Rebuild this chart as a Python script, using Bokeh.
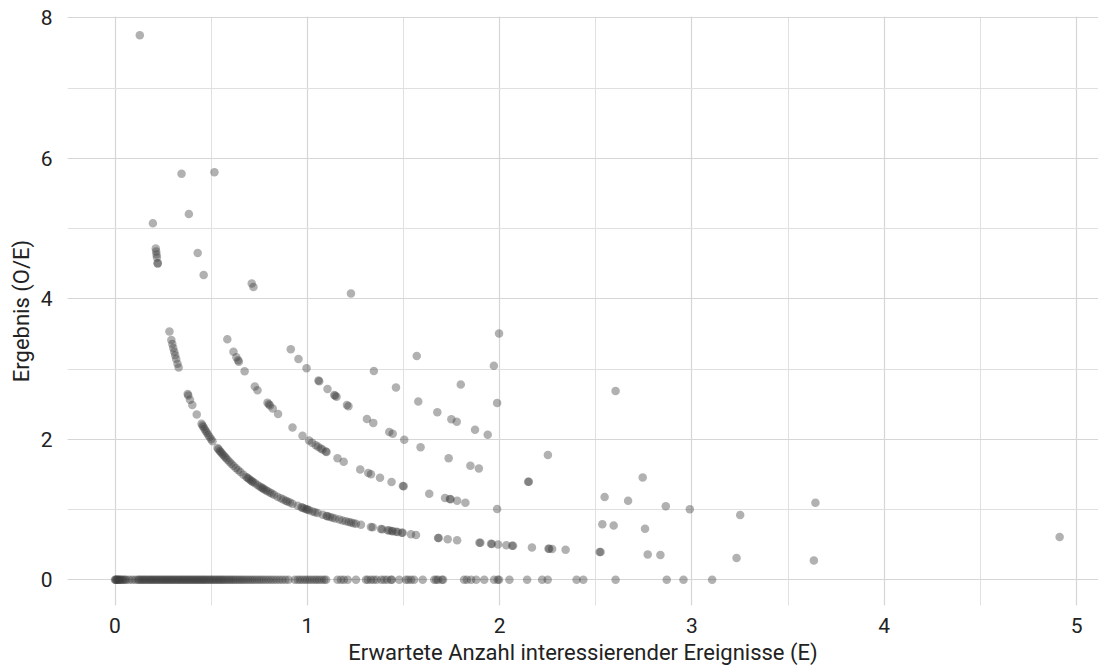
from bokeh.plotting import figure
from bokeh.models import ColumnDataSource, Range1d, SingleIntervalTicker
from bokeh.embed import file_html
from bokeh.resources import INLINE

# Expected number of events of interest (E), grouped by observed count (O)
e_obs0 = [0.000, 0.003, 0.006, 0.010, 0.014, 0.018, 0.022, 0.027, 0.032, 0.038, 0.045, 0.052,
          0.060, 0.075, 0.090, 0.105, 0.118, 0.125, 0.132, 0.140, 0.147, 0.155, 0.162, 0.170,
          0.178, 0.185, 0.192, 0.200, 0.207, 0.215, 0.222, 0.230, 0.237, 0.245, 0.252, 0.260,
          0.267, 0.275, 0.282, 0.290, 0.297, 0.305, 0.312, 0.320, 0.328, 0.335, 0.343, 0.350,
          0.358, 0.365, 0.373, 0.380, 0.388, 0.395, 0.403, 0.410, 0.418, 0.425, 0.433, 0.440,
          0.448, 0.455, 0.463, 0.470, 0.478, 0.486, 0.494, 0.502, 0.510, 0.518, 0.526, 0.534,
          0.542, 0.550, 0.558, 0.566, 0.575, 0.584, 0.593, 0.602, 0.611, 0.620, 0.630, 0.640,
          0.650, 0.660, 0.670, 0.681, 0.692, 0.703, 0.714, 0.725, 0.737, 0.749, 0.761, 0.773,
          0.786, 0.799, 0.812, 0.826, 0.840, 0.855, 0.870, 0.886, 0.902, 0.935, 0.950, 0.962,
          0.975, 0.988, 1.000, 1.012, 1.025, 1.038, 1.050, 1.062, 1.075, 1.088, 1.098,
          1.157, 1.175, 1.190, 1.210, 1.253, 1.305, 1.315, 1.331, 1.345, 1.360, 1.385, 1.400,
          1.415, 1.435, 1.440, 1.478, 1.513, 1.525, 1.540, 1.555, 1.600, 1.660, 1.670, 1.680,
          1.700, 1.706, 1.815, 1.830, 1.852, 1.878, 1.920, 1.971, 1.990, 1.997, 2.051, 2.143,
          2.221, 2.250, 2.400, 2.435, 2.603, 2.869, 2.956, 3.105]
e_obs1 = [0.129, 0.197, 0.212, 0.214, 0.216, 0.218, 0.222, 0.222,
          0.283, 0.293, 0.298, 0.303, 0.308, 0.313, 0.318, 0.325, 0.331,
          0.378, 0.381, 0.390, 0.402, 0.425,
          0.450, 0.455, 0.460, 0.466, 0.472, 0.478, 0.485, 0.492, 0.500, 0.507,
          0.533, 0.538, 0.545, 0.550, 0.556, 0.563, 0.570, 0.577, 0.585, 0.595, 0.605, 0.616,
          0.628, 0.640, 0.652, 0.668, 0.683, 0.690, 0.697, 0.705, 0.712, 0.718, 0.728, 0.741,
          0.752, 0.762, 0.768, 0.775, 0.785, 0.793, 0.805, 0.815, 0.827, 0.845, 0.862, 0.875,
          0.888, 0.897, 0.910, 0.923, 0.950, 0.970, 0.975, 0.985, 0.995, 1.001, 1.010, 1.027,
          1.040, 1.053, 1.080, 1.100, 1.105, 1.118, 1.131, 1.145, 1.166, 1.183, 1.200, 1.215,
          1.227, 1.240, 1.253, 1.279, 1.331, 1.340, 1.383, 1.390, 1.418, 1.426, 1.439, 1.444,
          1.461, 1.470, 1.491, 1.496, 1.539, 1.565, 1.680, 1.683, 1.730, 1.779, 1.895, 1.900,
          1.955, 1.960, 1.992, 2.035, 2.065, 2.070, 2.168, 2.254, 2.258, 2.273, 2.343,
          2.520, 2.525, 2.770, 2.836, 3.232, 3.634]
e_obs2 = [0.346, 0.384, 0.430, 0.461, 0.584, 0.616, 0.631, 0.640, 0.644, 0.674, 0.727, 0.741,
          0.793, 0.800, 0.806, 0.820, 0.848, 0.923, 0.975, 1.009, 1.025, 1.044, 1.056, 1.070,
          1.079, 1.096, 1.100, 1.157, 1.189, 1.275, 1.317, 1.331, 1.378, 1.438, 1.497, 1.501,
          1.634, 1.716, 1.741, 1.745, 1.779, 1.822, 1.987, 2.534, 2.593, 2.756]
e_obs3 = [0.517, 0.711, 0.720, 0.914, 0.954, 0.996, 1.058, 1.062, 1.105, 1.140, 1.145, 1.152,
          1.206, 1.214, 1.310, 1.343, 1.426, 1.444, 1.504, 1.589, 1.735, 1.848, 1.892, 2.148,
          2.152, 2.546, 2.668, 2.864, 2.989, 3.251, 4.912]
e_obs4 = [1.346, 1.461, 1.577, 1.676, 1.749, 1.777, 1.872, 1.938, 2.251, 2.744, 3.642]
e_obs5 = [1.227, 1.569, 1.798, 1.987]
e_obs6 = [1.970]
e_obs7 = [1.997, 2.603]

groups = [(0, e_obs0), (1, e_obs1), (2, e_obs2), (3, e_obs3),
          (4, e_obs4), (5, e_obs5), (6, e_obs6), (7, e_obs7)]

xs, ys = [], []
for o, es in groups:
    for e in es:
        xs.append(e)
        ys.append(0.0 if o == 0 else o / e)

src = ColumnDataSource(data=dict(x=xs, y=ys))

FONT = "Roboto"

p = figure(width=1098, height=672, output_backend="svg", toolbar_location=None,
           x_range=Range1d(-0.247, 5.114), y_range=Range1d(-0.366, 8.019),
           min_border_left=67, min_border_right=0, min_border_top=16, min_border_bottom=67)
p.outline_line_color = None
p.background_fill_color = "white"
p.border_fill_color = "white"

p.scatter("x", "y", source=src, size=8.5, fill_color="#3c3c3c", fill_alpha=0.4, line_color=None)

p.xaxis.ticker = SingleIntervalTicker(interval=1, num_minor_ticks=2)
p.yaxis.ticker = SingleIntervalTicker(interval=2, num_minor_ticks=2)

for ax in (p.xaxis[0], p.yaxis[0]):
    ax.axis_line_color = None
    ax.major_tick_line_color = None
    ax.minor_tick_line_color = None
    ax.major_label_text_font = FONT
    ax.major_label_text_font_size = "21px"
    ax.major_label_text_color = "#222222"
    ax.axis_label_text_font = FONT
    ax.axis_label_text_font_size = "22px"
    ax.axis_label_text_font_style = "normal"
    ax.axis_label_text_color = "#222222"

p.xaxis.axis_label = "Erwartete Anzahl interessierender Ereignisse (E)"
p.yaxis.axis_label = "Ergebnis (O/E)"
p.xaxis.major_label_standoff = 6
p.xaxis.axis_label_standoff = 4
p.yaxis.major_label_standoff = 9
p.yaxis.axis_label_standoff = 4

for g in (p.xgrid[0], p.ygrid[0]):
    g.grid_line_color = "#d6d6d6"
    g.grid_line_width = 1.2
    g.minor_grid_line_color = "#e0e0e0"
    g.minor_grid_line_width = 1.0

open("out.html", "w").write(file_html(p, INLINE))
